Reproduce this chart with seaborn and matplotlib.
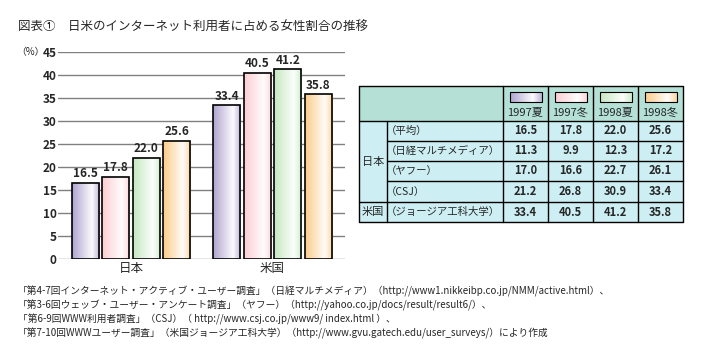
import numpy as np
import pandas as pd
import matplotlib
matplotlib.use("Agg")
import matplotlib.pyplot as plt
from matplotlib.patches import Rectangle
import seaborn as sns

countries = ["日本", "米国"]
seasons = ["1997夏", "1997冬", "1998夏", "1998冬"]
share_jp = [16.5, 17.8, 22.0, 25.6]
share_us = [33.4, 40.5, 41.2, 35.8]
bar_colors = ["#b0a4d0", "#fccdd2", "#c4e8c0", "#fdcb8a"]

row_groups = ["日本", "日本", "日本", "日本", "米国"]
row_labels = ["（平均）", "（日経マルチメディア）", "（ヤフー）", "（CSJ）", "（ジョージア工科大学）"]
tbl_avg = [16.5, 17.8, 22.0, 25.6]
tbl_nikkei = [11.3, 9.9, 12.3, 17.2]
tbl_yahoo = [17.0, 16.6, 22.7, 26.1]
tbl_csj = [21.2, 26.8, 30.9, 33.4]
tbl_gatech = [33.4, 40.5, 41.2, 35.8]

title = "図表①　日米のインターネット利用者に占める女性割合の推移"
notes = [
    "「第4-7回インターネット・アクティブ・ユーザー調査」（日経マルチメディア）（http://www1.nikkeibp.co.jp/NMM/active.html）、",
    "「第3-6回ウェッブ・ユーザー・アンケート調査」（ヤフー）（http://yahoo.co.jp/docs/result/result6/）、",
    "「第6-9回WWW利用者調査」（CSJ）（ http://www.csj.co.jp/www9/ index.html ）、",
    "「第7-10回WWWユーザー調査」（米国ジョージア工科大学）（http://www.gvu.gatech.edu/user_surveys/）により作成",
]

sns.set_theme(style="white")
plt.rcParams["font.family"] = ["Noto Sans CJK JP", "DejaVu Sans"]

df = pd.DataFrame({
    "country": np.repeat(countries, len(seasons)),
    "season": seasons * len(countries),
    "value": share_jp + share_us,
})

fig = plt.figure(figsize=(7.04, 3.57), dpi=100)
W, H = 704, 357
ax = fig.add_axes([58 / W, 1 - 259 / H, 287 / W, 207 / H])

sns.barplot(data=df, x="country", y="value", hue="season", hue_order=seasons,
            palette=bar_colors, width=0.862, gap=0.11, edgecolor="black",
            linewidth=1.2, legend=False, ax=ax, zorder=3)


def gradient_img(color):
    rgb = np.array(matplotlib.colors.to_rgb(color))
    t = np.linspace(0, 1, 64)
    w = np.where(t < 0.72, t / 0.72 * 0.95, 0.95 - (t - 0.72) / 0.28 * 0.75)
    img = rgb[None, :] * (1 - w[:, None]) + w[:, None]
    return img[None, :, :]


for i, p in enumerate(ax.patches):
    col = bar_colors[i // len(countries)]
    x0, y0 = p.get_x(), p.get_y()
    im = ax.imshow(gradient_img(col), extent=[x0, x0 + p.get_width(), y0, y0 + p.get_height()],
                   aspect="auto", zorder=2.5, interpolation="bilinear")
    im.set_clip_path(p)
    p.set_facecolor("none")
    ax.text(x0 + p.get_width() / 2, p.get_height() + 0.6, f"{p.get_height():.1f}",
            ha="center", va="bottom", fontsize=8.5, fontweight="bold", zorder=4)

ax.set_ylim(0, 45)
ax.set_xlim(-0.516, 1.512)
ax.set_yticks(range(0, 46, 5))
ax.yaxis.grid(True, color="#808080", linewidth=1)
ax.set_axisbelow(True)
for s in ax.spines.values():
    s.set_visible(False)
ax.tick_params(axis="y", length=0, pad=1, labelsize=8.5)
for lbl in ax.get_yticklabels():
    lbl.set_fontweight("bold")
ax.tick_params(axis="x", length=0, pad=2, labelsize=9)
ax.set_xlabel("")
ax.set_ylabel("")
ax.patch.set_alpha(0)
fig.text(16 / W, 1 - 52 / H, "（%）", fontsize=7, va="center", ha="left")

# table
ov = fig.add_axes([0, 0, 1, 1])
ov.set_xlim(0, W)
ov.set_ylim(H, 0)
ov.axis("off")

col_x = [359, 387, 503, 548, 593, 638, 683]
row_y = [86, 121, 141, 161, 181, 202, 222]
head_bg = "#b4e0d6"
body_bg = "#cdeef2"
ov.add_patch(Rectangle((col_x[0], row_y[0]), col_x[-1] - col_x[0], row_y[1] - row_y[0],
                       facecolor=head_bg, edgecolor="none"))
ov.add_patch(Rectangle((col_x[0], row_y[1]), col_x[-1] - col_x[0], row_y[-1] - row_y[1],
                       facecolor=body_bg, edgecolor="none"))
lw = 1.0
ov.plot([col_x[0], col_x[-1], col_x[-1], col_x[0], col_x[0]],
        [row_y[0], row_y[0], row_y[-1], row_y[-1], row_y[0]], color="black", lw=lw)
for x in col_x[2:-1]:
    ov.plot([x, x], [row_y[0], row_y[-1]], color="black", lw=lw)
ov.plot([col_x[1], col_x[1]], [row_y[1], row_y[-1]], color="black", lw=lw)
ov.plot([col_x[0], col_x[-1]], [row_y[1], row_y[1]], color="black", lw=lw)
for y in row_y[2:5]:
    ov.plot([col_x[1], col_x[-1]], [y, y], color="black", lw=lw)
ov.plot([col_x[0], col_x[-1]], [row_y[5], row_y[5]], color="black", lw=lw)

for j, (season, col) in enumerate(zip(seasons, bar_colors)):
    cx = (col_x[j + 2] + col_x[j + 3]) / 2
    ov.imshow(gradient_img(col), extent=[cx - 16, cx + 16, 102, 92], aspect="auto",
              zorder=3, interpolation="bilinear")
    ov.add_patch(Rectangle((cx - 16, 92), 32, 10, facecolor="none", edgecolor="black",
                           lw=0.8, zorder=4))
    ov.text(cx, 112, season, ha="center", va="center", fontsize=8)

table_vals = [tbl_avg, tbl_nikkei, tbl_yahoo, tbl_csj, tbl_gatech]
for i, (lab, vals) in enumerate(zip(row_labels, table_vals)):
    cy = (row_y[i + 1] + row_y[i + 2]) / 2
    ov.text(col_x[1] - 1, cy, lab, ha="left", va="center", fontsize=7.5)
    for j, v in enumerate(vals):
        cx = (col_x[j + 2] + col_x[j + 3]) / 2
        ov.text(cx, cy, f"{v:.1f}", ha="center", va="center", fontsize=8, fontweight="bold")

ov.text((col_x[0] + col_x[1]) / 2, (row_y[1] + row_y[5]) / 2, row_groups[0],
        ha="center", va="center", fontsize=8)
ov.text((col_x[0] + col_x[1]) / 2, (row_y[5] + row_y[6]) / 2, row_groups[4],
        ha="center", va="center", fontsize=8)

ov.text(18, 27, title, ha="left", va="center", fontsize=9)
for k, line in enumerate(notes):
    ov.text(18, 291 + 14 * k, line, ha="left", va="center", fontsize=7)

fig.savefig("out.png", dpi=100)
